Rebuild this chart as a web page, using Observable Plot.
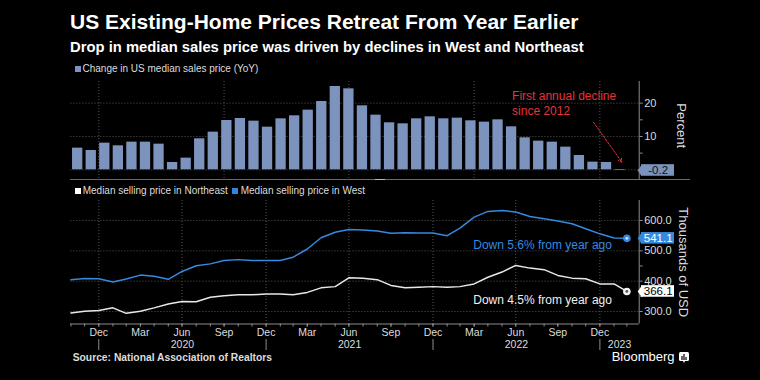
<!DOCTYPE html>
<html><head><meta charset="utf-8">
<script src="https://cdn.jsdelivr.net/npm/d3@7"></script>
<script src="https://cdn.jsdelivr.net/npm/@observablehq/plot@0.6"></script>
<style>
body{margin:0;background:#000;width:760px;height:380px;overflow:hidden;position:relative;font-family:"Liberation Sans",Arial,sans-serif;color:#fff}
.abs{position:absolute;white-space:nowrap;line-height:1}
.sq{position:absolute;width:6px;height:6px}
</style></head><body>
<div class="abs" style="left:70px;top:11.2px;font-size:21px;font-weight:bold;color:#fff">US Existing-Home Prices Retreat From Year Earlier</div>
<div class="abs" style="left:70px;top:39.5px;font-size:14.8px;font-weight:bold;color:#fff">Drop in median sales price was driven by declines in West and Northeast</div>
<div class="sq" style="left:75px;top:66px;background:#7b93bd"></div>
<div class="abs" style="left:82.5px;top:64.3px;font-size:10px;color:#ddd">Change in US median sales price (YoY)</div>
<div id="topPanel" class="abs" style="left:0;top:75px"></div>
<div class="abs" style="left:70px;top:178.5px;width:620px;height:1.5px;background:#6a6a6a"></div>
<div class="abs" style="left:375px;top:178.5px;width:10px;height:1.5px;background:#bbb"></div>
<div class="sq" style="left:75px;top:187.5px;background:#fff"></div>
<div class="abs" style="left:82.7px;top:185.6px;font-size:10px;color:#ddd">Median selling price in Northeast</div>
<div class="sq" style="left:232px;top:187.5px;background:#2f86e0"></div>
<div class="abs" style="left:240.7px;top:185.6px;font-size:10px;color:#ddd">Median selling price in West</div>
<div id="bottomPanel" class="abs" style="left:0;top:195px"></div>
<div class="abs" style="left:72.7px;top:353.3px;font-size:10.3px;font-weight:bold;color:#ddd">Source: National Association of Realtors</div>
<div class="abs" style="left:611.7px;top:350px;font-size:13px;color:#fff">Bloomberg</div>
<svg class="abs" style="left:678.5px;top:351.5px" width="10" height="11"><rect x="0" y="0" width="10" height="9" rx="1.5" fill="#fff"/><path d="M3,8 V4 M5,8 V2 M7,8 V5" stroke="#000" stroke-width="1.2"/><path d="M4,9 L5,11 L6,9 Z" fill="#fff"/></svg>
<script>
// ---- data ----
const months = d3.utcMonth.range(new Date(Date.UTC(2019, 9, 1)), new Date(Date.UTC(2023, 2, 1))); // Oct 2019 .. Feb 2023
const yoyChange = [6.5, 5.8, 8.0, 7.2, 8.3, 8.3, 7.7, 2.2, 3.5, 9.3, 11.3, 14.8, 15.4, 14.6, 12.8, 15.3, 16.2, 17.9, 20.5, 25.0, 24.3, 19.2, 16.4, 14.1, 13.8, 15.3, 15.9, 15.3, 15.5, 14.7, 14.3, 15.0, 12.9, 9.6, 8.6, 8.3, 6.8, 4.3, 2.3, 2.2, -0.2];
const westPrice = [405, 409, 408, 397, 407, 420, 416, 406, 432, 451, 457, 468, 471, 468, 468, 468, 479, 506, 543, 561, 570, 569, 565, 558, 560, 559, 559, 550, 575, 611, 630, 633, 628, 613, 606, 598, 589, 573, 556, 542, 541.1];
const northeastPrice = [295, 301, 303, 312, 294, 301, 312, 325, 333, 332, 347, 352, 355, 355, 358, 358, 355, 363, 378, 382, 411, 410, 405, 386, 378, 380, 382, 380, 382, 391, 413, 430, 452, 443, 438, 419, 410, 408, 391, 391, 366.1];
const pctTicks = [10, 20];
const pctMinor = [0, 5, 15];
const usdTicks = [300, 400, 500, 600];
const usdMinor = [350, 450, 550];
const yearLabels = ["2020", "2021", "2022", "2023"];
const annotationText = "First annual decline\nsince 2012";
const westNote = "Down 5.6% from year ago";
const neNote = "Down 4.5% from year ago";

// ---- helpers ----
const monthEnd = d => d3.utcDay.offset(d3.utcMonth.offset(d, 1), -1);
const dates = months.map(monthEnd);
const xStart = dates[0];
const xEnd = new Date(Date.UTC(2023, 2, 27));
const xDomain = [xStart, xEnd];
const N = dates.length;
const t0 = +dates[0], tN = +dates[N - 1], step = (tN - t0) / N;
const bars = yoyChange.map((v, i) => ({v, x1: new Date(t0 + (i + 0.12) * step), x2: new Date(t0 + (i + 0.88) * step)}));
const west = dates.map((d, i) => ({d, v: westPrice[i]}));
const ne = dates.map((d, i) => ({d, v: northeastPrice[i]}));
const quarterTicks = dates.filter(d => [2, 5, 8, 11].includes(d.getUTCMonth()));
const gridTopDates = dates.filter((d, i) => i >= 2 && (i - 2) % 9 === 0); // every 9 months from Dec 2019
const gridBottomDates = dates.filter(d => [5, 11].includes(d.getUTCMonth()));
const yearBounds = dates.filter(d => d.getUTCMonth() === 11);
const boundsAll = [...yearBounds, xEnd];
const yearMids = yearLabels.map((label, i) => ({label, d: new Date((+boundsAll[i] + +boundsAll[i + 1]) / 2)}));

const gridStyle = {stroke: "#555", strokeDasharray: "1,2", strokeWidth: 1};
const axisColor = "#8c8c8c";
const font = "Liberation Sans, Arial, sans-serif";
const barColor = "#7b93bd";
const red = "#e3343f";
const blue = "#3589e0";

function tag(value, fill, textFill) {
  const d = [{v: value}];
  return [
    Plot.rect(d, {x1: () => xEnd, x2: () => xEnd, y1: "v", y2: "v", insetLeft: 2.3, insetRight: -35.3, insetTop: -5.8, insetBottom: -5.8, fill}),
    Plot.vector(d, {x: () => xEnd, y: "v", dx: 2.5, length: 4, rotate: -90, shape: "spike", r: 5.8, anchor: "start", fill, stroke: null}),
    Plot.text(d, {x: () => xEnd, y: "v", dx: 19, text: dd => dd.v.toFixed(1), fill: textFill, fontSize: 11.5, textAnchor: "middle"})
  ];
}

// ---- top panel ----
const topChart = Plot.plot({
  width: 760, height: 110,
  marginLeft: 70.4, marginRight: 121.3, marginTop: 6, marginBottom: 5.7,
  style: {background: "transparent", color: "#ddd", fontFamily: font, fontSize: "11px", overflow: "visible"},
  x: {type: "utc", domain: xDomain, axis: null},
  y: {domain: [-3, 26.5]},
  marks: [
    Plot.ruleY([0, ...pctTicks], gridStyle),
    Plot.ruleX(gridTopDates, gridStyle),
    Plot.rectY(bars, {x1: "x1", x2: "x2", y: "v", fill: barColor}),
    Plot.ruleX([xEnd], {stroke: axisColor}),
    Plot.axisY({anchor: "right", ticks: pctTicks, tickSize: 3, tickPadding: 2, fontSize: 11, label: null, stroke: axisColor, fill: "#ddd"}),
    Plot.axisY({anchor: "right", ticks: pctMinor, tickSize: 3, tickFormat: () => "", label: null, stroke: axisColor}),
    ...tag(yoyChange[N - 1], barColor, "#111"),
    Plot.text([annotationText], {x: () => new Date(Date.UTC(2022, 5, 22)), y: () => 20.1, text: d => d, textAnchor: "start", lineHeight: 1.2, fontSize: 12, fill: red}),
    Plot.arrow([{}], {x1: () => new Date(Date.UTC(2022, 11, 17)), y1: () => 14.3, x2: () => new Date(Date.UTC(2023, 1, 17)), y2: () => 2.3, stroke: red, strokeWidth: 1, strokeDasharray: "2,1.5", headLength: 6}),
    Plot.text(["Percent"], {frameAnchor: "right", dx: 42.3, dy: -5, rotate: 90, textAnchor: "middle", lineAnchor: "middle", fontSize: 13, fill: "#ddd"})
  ]
});
document.getElementById("topPanel").appendChild(topChart);

// ---- bottom panel ----
const bottomChart = Plot.plot({
  width: 760, height: 160,
  marginLeft: 70.4, marginRight: 121.3, marginTop: 5, marginBottom: 31.5,
  style: {background: "transparent", color: "#ddd", fontFamily: font, fontSize: "11px", overflow: "visible"},
  x: {type: "utc", domain: xDomain},
  y: {domain: [258.8, 665.9]},
  marks: [
    Plot.ruleY(usdTicks, gridStyle),
    Plot.ruleX(gridBottomDates, gridStyle),
    Plot.ruleY([258.8], {stroke: axisColor}),
    Plot.ruleX([xEnd], {stroke: axisColor}),
    Plot.axisY({anchor: "right", ticks: usdTicks, tickSize: 3, tickPadding: 2, tickFormat: ".1f", fontSize: 11, label: null, stroke: axisColor, fill: "#ddd"}),
    Plot.axisY({anchor: "right", ticks: usdMinor, tickSize: 3, tickFormat: () => "", label: null, stroke: axisColor}),
    Plot.axisX({ticks: dates, tickSize: 3, tickFormat: () => "", label: null, stroke: axisColor}),
    Plot.axisX({ticks: quarterTicks, tickSize: 3, tickPadding: 1.5, tickFormat: d3.utcFormat("%b"), fontSize: 10.5, label: null, stroke: axisColor, fill: "#ddd"}),
    Plot.ruleX(yearBounds, {stroke: axisColor, insetTop: 139, insetBottom: -26.5}),
    Plot.text(yearMids, {x: "d", text: "label", frameAnchor: "bottom", lineAnchor: "middle", dy: 21, fontSize: 10.5, fill: "#ddd"}),
    Plot.line(west, {x: "d", y: "v", stroke: blue, strokeWidth: 1.5}),
    Plot.line(ne, {x: "d", y: "v", stroke: "#e8e8e8", strokeWidth: 1.5}),
    Plot.dot([west[N - 1]], {x: "d", y: "v", r: 3.8, fill: blue}),
    Plot.dot([west[N - 1]], {x: "d", y: "v", r: 1.4, fill: "#d6e8fb"}),
    Plot.dot([ne[N - 1]], {x: "d", y: "v", r: 3.8, fill: "#f0f0f0"}),
    Plot.dot([ne[N - 1]], {x: "d", y: "v", r: 1.4, fill: "#555"}),
    ...tag(westPrice[N - 1], blue, "#fff"),
    ...tag(northeastPrice[N - 1], "#fff", "#000"),
    Plot.text([westNote], {x: () => new Date(Date.UTC(2022, 2, 29)), y: () => 517.6, text: d => d, textAnchor: "start", fontSize: 12, fill: blue}),
    Plot.text([neNote], {x: () => new Date(Date.UTC(2022, 2, 29)), y: () => 336, text: d => d, textAnchor: "start", fontSize: 12, fill: "#f0f0f0"}),
    Plot.text(["Thousands of USD"], {frameAnchor: "right", dx: 43.8, rotate: 90, textAnchor: "middle", lineAnchor: "middle", fontSize: 13, fill: "#ddd"})
  ]
});
document.getElementById("bottomPanel").appendChild(bottomChart);
</script>
</body></html>
